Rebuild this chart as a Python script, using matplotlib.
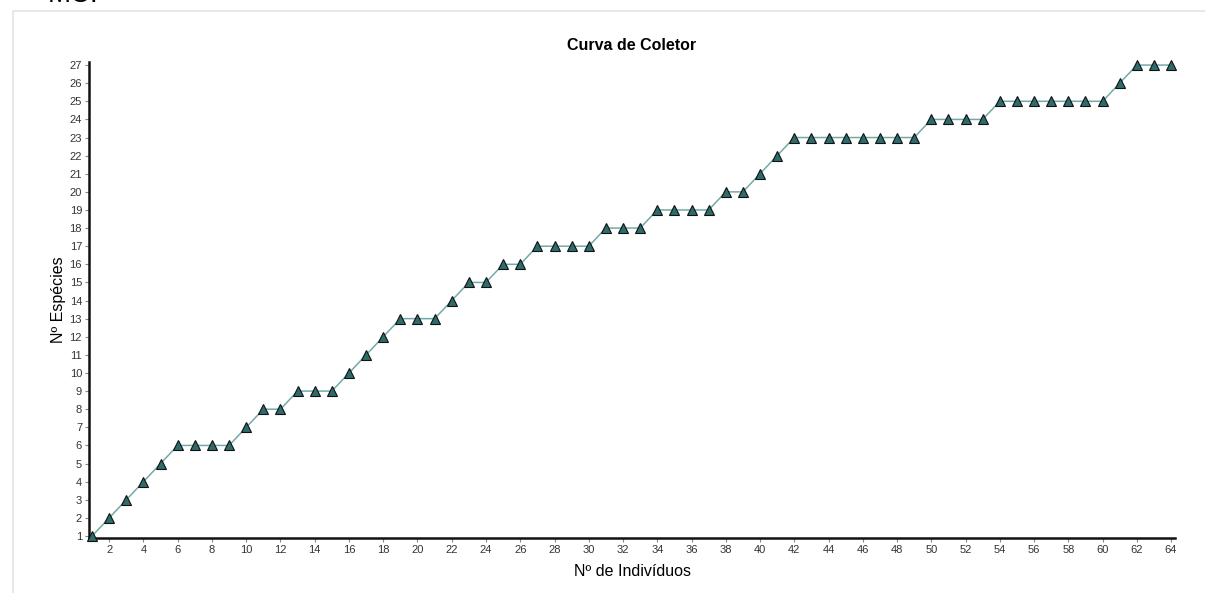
"""Curva de coletor (species accumulation curve)."""

# ---------- Imports ---------- #
import matplotlib
matplotlib.use("Agg")
import matplotlib.pyplot as plt
from matplotlib.patches import Rectangle

# ---------- Data ---------- #
individuos = list(range(1, 65))
especies = [
    1, 2, 3, 4, 5, 6, 6, 6, 6, 7,
    8, 8, 9, 9, 9, 10, 11, 12, 13, 13,
    13, 14, 15, 15, 16, 16, 17, 17, 17, 17,
    18, 18, 18, 19, 19, 19, 19, 20, 20, 21,
    22, 23, 23, 23, 23, 23, 23, 23, 23, 24,
    24, 24, 24, 25, 25, 25, 25, 25, 25, 25,
    26, 27, 27, 27,
]
x_ticks = list(range(2, 65, 2))
y_ticks = list(range(1, 28))

# ---------- Style ---------- #
plt.rcParams["font.family"] = ["Liberation Sans", "DejaVu Sans"]
W, H = 1205, 593


def main():
    fig = plt.figure(figsize=(W / 100, H / 100), dpi=100)

    # light gray frame around the panel
    fig.patches.append(
        Rectangle((13 / W, -0.05), 1.1, 1 - 11 / H + 0.05,
                  transform=fig.transFigure, fill=False,
                  edgecolor="#e4e4e4", linewidth=1.2)
    )
    # heading of the page, cut by the top edge as in the screenshot
    fig.text(48 / W, 1 + 5 / H, "MC.", fontsize=20, va="center", ha="left")

    ax = fig.add_axes([89 / W, 1 - 538 / H, (1175 - 89) / W, (538 - 62) / H])
    ax.plot(individuos, especies, color="#73aaa8", linewidth=1.1, zorder=2)
    ax.plot(individuos, especies, linestyle="none", marker="^", markersize=7.5,
            markerfacecolor="#2e6b6b", markeredgecolor="#111111",
            markeredgewidth=0.8, zorder=3, clip_on=False)

    ax.set_xlim(0.82, 64.23)
    ax.set_ylim(0.89, 27.17)
    ax.set_xticks(x_ticks)
    ax.set_yticks(y_ticks)
    ax.tick_params(axis="both", length=3, width=0.8, color="#888888",
                   labelsize=8, labelcolor="#333333", pad=2)

    for side in ("top", "right"):
        ax.spines[side].set_visible(False)
    for side in ("left", "bottom"):
        ax.spines[side].set_linewidth(1.8)
        ax.spines[side].set_color("#111111")

    fig.text(0.5 * (89 + 1175) / W, 1 - 45 / H, "Curva de Coletor",
             ha="center", va="center", fontsize=11.5, fontweight="bold")
    fig.text(0.5 * (89 + 1175) / W, 1 - 572 / H, "Nº de Indivíduos",
             ha="center", va="center", fontsize=11.5)
    fig.text(59 / W, 1 - 300 / H, "Nº Espécies", rotation=90,
             ha="center", va="center", fontsize=11.5)

    fig.savefig("out.png", dpi=100)
    plt.close(fig)


if __name__ == "__main__":
    main()
